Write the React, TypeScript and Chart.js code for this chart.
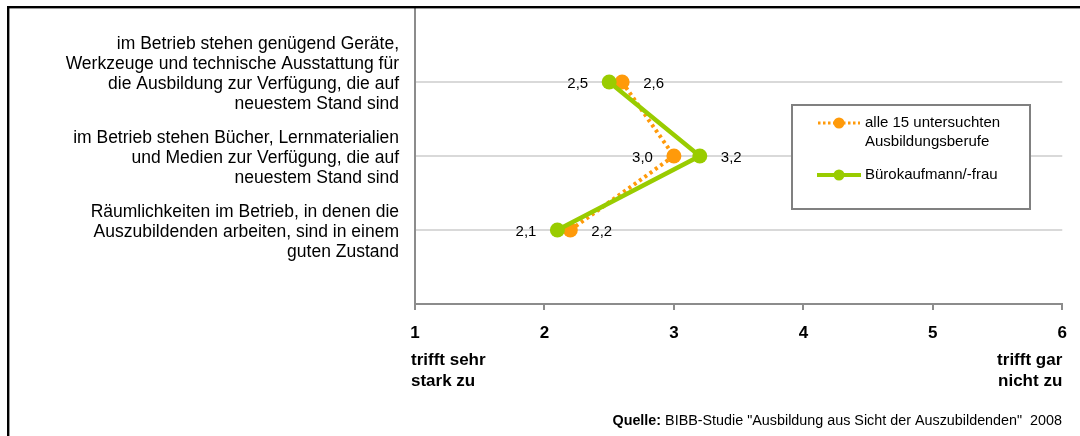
import React, { useEffect, useRef } from 'react';
import { Chart, registerables } from 'chart.js';

Chart.register(...registerables);

// ---------- data ----------
const categoryLabels: string[][] = [
  ['im Betrieb stehen genügend Geräte,', 'Werkzeuge und technische Ausstattung für', 'die Ausbildung zur Verfügung, die auf', 'neuestem Stand sind'],
  ['im Betrieb stehen Bücher, Lernmaterialien', 'und Medien zur Verfügung, die auf', 'neuestem Stand sind'],
  ['Räumlichkeiten im Betrieb, in denen die', 'Auszubildenden arbeiten, sind in einem', 'guten Zustand'],
];
const categoryPositions = [1, 2, 3];
const seriesAllName = ['alle 15 untersuchten', 'Ausbildungsberufe'];
const seriesBueroName = ['Bürokaufmann/-frau'];
const allValues = [2.6, 3.0, 2.2];
const bueroValues = [2.5, 3.2, 2.1];
const xMin = 1;
const xMax = 6;
const scaleLeftLabel = ['trifft sehr', 'stark zu'];
const scaleRightLabel = ['trifft gar', 'nicht zu'];
const sourceBold = 'Quelle:';
const sourceRest = ' BIBB-Studie "Ausbildung aus Sicht der Auszubildenden"  2008';

// ---------- styles ----------
const FONT = "'Liberation Sans', Arial, sans-serif";
const ORANGE = '#FF9A0A';
const GREEN = '#99CC00';
const AXIS = '#8C8C8C';
const GRID = '#D9D9D9';
const allLabelSide = ['right', 'left', 'right'];
const bueroLabelSide = ['left', 'right', 'left'];
const categoryShift = [-8, 2, 2];

const fmt = (v: number) => v.toFixed(1).replace('.', ',');

const overlayPlugin = {
  id: 'overlay',
  afterDraw(chart: any) {
    const ctx: CanvasRenderingContext2D = chart.ctx;
    const area = chart.chartArea;
    const xs = chart.scales.x;
    const ys = chart.scales.y;
    ctx.save();

    // data labels
    ctx.font = `15px ${FONT}`;
    ctx.fillStyle = '#000';
    ctx.textBaseline = 'middle';
    const drawLabels = (dsIndex: number, values: number[], sides: string[]) => {
      const meta = chart.getDatasetMeta(dsIndex);
      meta.data.forEach((pt: any, i: number) => {
        const side = sides[i];
        ctx.textAlign = side === 'left' ? 'right' : 'left';
        ctx.fillText(fmt(values[i]), pt.x + (side === 'left' ? -21 : 21), pt.y + 2);
      });
    };
    drawLabels(0, allValues, allLabelSide);
    drawLabels(1, bueroValues, bueroLabelSide);

    // category labels
    ctx.font = `17.5px ${FONT}`;
    ctx.textAlign = 'right';
    const lh = 19.8;
    categoryLabels.forEach((lines, i) => {
      const cy = ys.getPixelForValue(categoryPositions[i]) + categoryShift[i];
      const top = cy - (lines.length - 1) * lh / 2;
      lines.forEach((l, j) => ctx.fillText(l, area.left - 16, top + j * lh));
    });

    // scale end labels
    ctx.font = `bold 17px ${FONT}`;
    ctx.textAlign = 'left';
    const lx = xs.getPixelForValue(xMin) - 4;
    scaleLeftLabel.forEach((l, j) => ctx.fillText(l, lx, 360 + j * 21));
    ctx.textAlign = 'right';
    const rx = xs.getPixelForValue(xMax);
    scaleRightLabel.forEach((l, j) => ctx.fillText(l, rx, 360 + j * 21));

    // legend
    const lgX = 792, lgY = 105, lgW = 238, lgH = 104;
    ctx.fillStyle = '#fff';
    ctx.fillRect(lgX, lgY, lgW, lgH);
    ctx.strokeStyle = '#808080';
    ctx.lineWidth = 2;
    ctx.strokeRect(lgX, lgY, lgW, lgH);
    // entry 1
    ctx.strokeStyle = ORANGE;
    ctx.lineWidth = 3;
    ctx.setLineDash([2.5, 2.5]);
    ctx.beginPath();
    ctx.moveTo(818, 123);
    ctx.lineTo(860, 123);
    ctx.stroke();
    ctx.setLineDash([]);
    ctx.fillStyle = ORANGE;
    ctx.beginPath();
    ctx.arc(839, 123, 5.5, 0, Math.PI * 2);
    ctx.fill();
    // entry 2
    ctx.strokeStyle = GREEN;
    ctx.lineWidth = 4;
    ctx.beginPath();
    ctx.moveTo(817, 175);
    ctx.lineTo(861, 175);
    ctx.stroke();
    ctx.fillStyle = GREEN;
    ctx.beginPath();
    ctx.arc(839, 175, 5.5, 0, Math.PI * 2);
    ctx.fill();
    ctx.fillStyle = '#000';
    ctx.font = `15px ${FONT}`;
    ctx.textAlign = 'left';
    seriesAllName.forEach((l, j) => ctx.fillText(l, 865, 123 + j * 19));
    seriesBueroName.forEach((l, j) => ctx.fillText(l, 865, 175 + j * 19));

    // source
    const fs = 14.35;
    ctx.font = `bold ${fs}px ${FONT}`;
    const wb = ctx.measureText(sourceBold).width;
    ctx.font = `${fs}px ${FONT}`;
    const wr = ctx.measureText(sourceRest).width;
    const sx = 1062 - wb - wr;
    ctx.textAlign = 'left';
    ctx.font = `bold ${fs}px ${FONT}`;
    ctx.fillText(sourceBold, sx, 421);
    ctx.font = `${fs}px ${FONT}`;
    ctx.fillText(sourceRest, sx + wb, 421);

    // frame
    ctx.fillStyle = '#000';
    ctx.fillRect(7, 6, 1080 - 7, 2.4);
    ctx.fillRect(7, 6, 2.4, 436 - 6);

    ctx.restore();
  },
};

export default function App() {
  const ref = useRef<HTMLCanvasElement>(null);
  useEffect(() => {
    document.body.style.margin = '0';
    const chart = new Chart(ref.current as HTMLCanvasElement, {
      type: 'line',
      data: {
        datasets: [
          {
            label: seriesAllName.join(' '),
            data: allValues.map((v, i) => ({ x: v, y: categoryPositions[i] })),
            borderColor: ORANGE,
            backgroundColor: ORANGE,
            borderWidth: 4,
            borderDash: [3, 3.5],
            pointRadius: 7.5,
            pointBorderWidth: 0,
            pointBackgroundColor: ORANGE,
            tension: 0,
            order: 1,
            clip: false as any,
          },
          {
            label: seriesBueroName.join(' '),
            data: bueroValues.map((v, i) => ({ x: v, y: categoryPositions[i] })),
            borderColor: GREEN,
            backgroundColor: GREEN,
            borderWidth: 4.5,
            pointRadius: 7.5,
            pointBorderWidth: 0,
            pointBackgroundColor: GREEN,
            tension: 0,
            order: 0,
            clip: false as any,
          },
        ],
      },
      options: {
        animation: false,
        responsive: true,
        maintainAspectRatio: false,
        layout: { padding: { top: 8, right: 14, left: 0, bottom: 0 } },
        plugins: {
          legend: { display: false },
          tooltip: { enabled: false },
        },
        scales: {
          x: {
            type: 'linear',
            min: xMin,
            max: xMax,
            afterFit: (s: any) => { s.height = 132; },
            ticks: {
              stepSize: 1,
              color: '#000',
              font: { family: FONT, size: 17, weight: 'bold' },
              padding: 13,
              maxRotation: 0,
            },
            grid: {
              drawOnChartArea: false,
              drawTicks: true,
              tickLength: 6,
              color: AXIS,
              lineWidth: 2,
            },
            border: { color: AXIS, width: 2 },
          },
          y: {
            type: 'linear',
            min: 0,
            max: 4,
            reverse: true,
            afterFit: (s: any) => { s.width = 415; },
            ticks: { display: false, stepSize: 1 },
            grid: {
              drawTicks: false,
              lineWidth: 2,
              color: (c: any) => (c.tick && categoryPositions.includes(c.tick.value) ? GRID : 'rgba(0,0,0,0)'),
            },
            border: { color: AXIS, width: 2 },
          },
        },
      },
      plugins: [overlayPlugin],
    });
    return () => chart.destroy();
  }, []);
  return (
    <div style={{ position: 'relative', width: 1080, height: 436 }}>
      <canvas ref={ref} />
    </div>
  );
}
